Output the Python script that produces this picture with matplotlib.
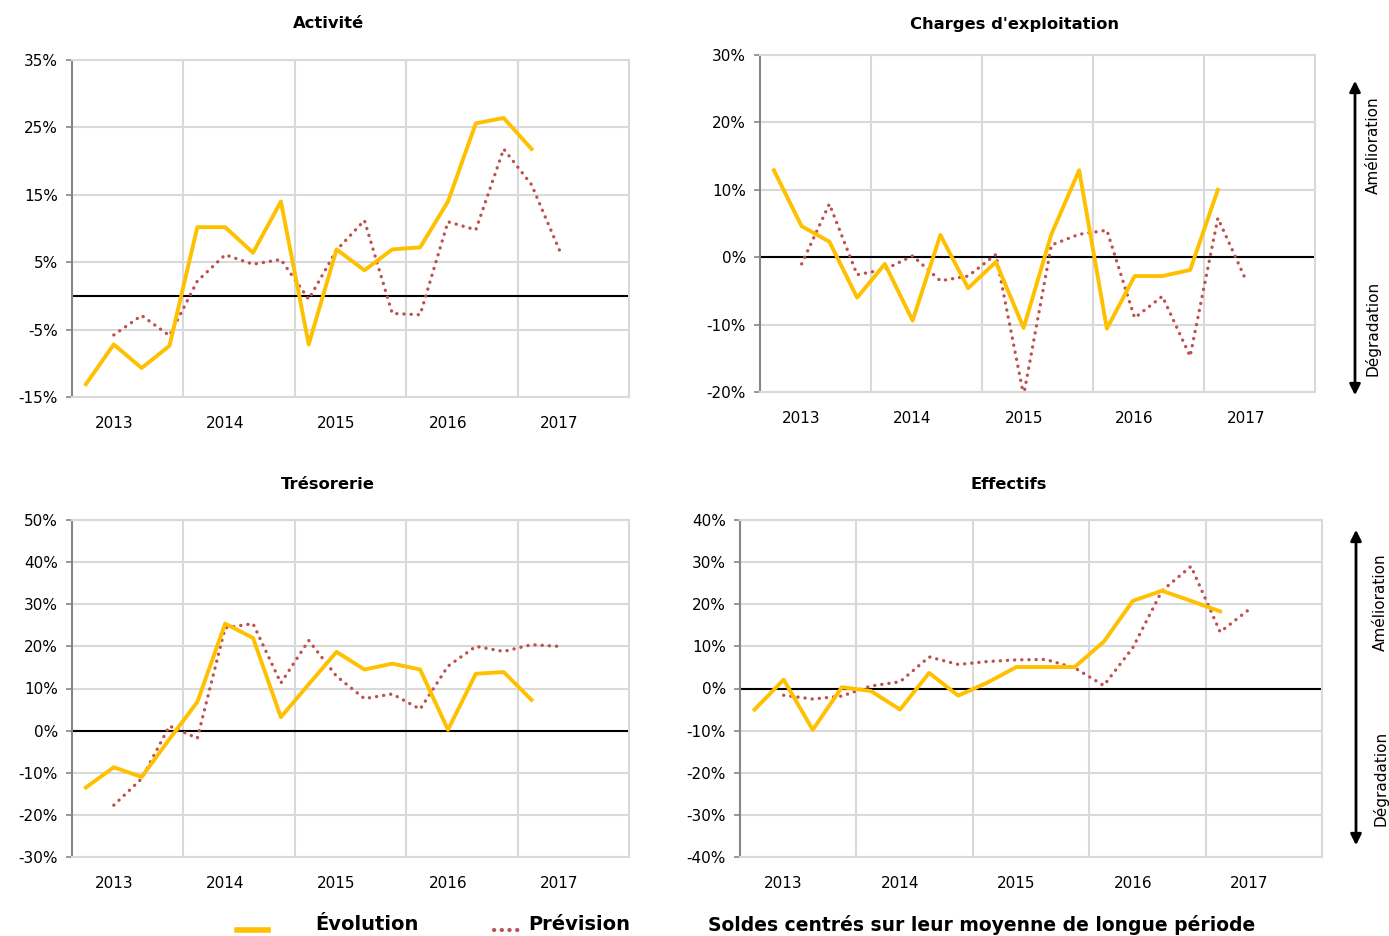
import numpy as np
import matplotlib.pyplot as plt

# quarterly points, 4 per year, 2013-2017
years = ["2013", "2014", "2015", "2016", "2017"]

activite_evol = [-13.1, -7.2, -10.7, -7.4, 10.2, 10.2, 6.4, 14.0, -7.2, 6.9, 3.8, 6.9, 7.2, 14.0, 25.6, 26.4, 21.8]
activite_prev = [-5.8, -2.9, -5.9, 2.2, 6.1, 4.7, 5.4, -0.5, 6.8, 11.2, -2.6, -2.8, 11.0, 9.8, 21.8, 16.5, 6.8]

charges_evol = [12.9, 4.6, 2.3, -6.0, -1.0, -9.4, 3.3, -4.6, -0.7, -10.5, 3.4, 12.9, -10.6, -2.8, -2.8, -1.9, 10.0]
charges_prev = [-1.0, 7.9, -2.6, -1.8, 0.2, -3.5, -2.8, 0.4, -20.5, 1.8, 3.4, 4.0, -9.0, -5.8, -14.7, 5.8, -3.3]

treso_evol = [-13.5, -8.7, -11.0, -2.0, 6.8, 25.4, 22.0, 3.2, 11.0, 18.7, 14.5, 15.9, 14.5, 0.2, 13.5, 13.9, 7.3]
treso_prev = [-17.7, -11.4, 1.1, -1.8, 24.4, 25.4, 11.3, 21.4, 12.9, 7.6, 8.7, 5.1, 15.3, 20.0, 18.8, 20.4, 20.0]

effectifs_evol = [-5.0, 2.1, -9.8, 0.3, -0.6, -5.0, 3.7, -1.7, 1.4, 5.1, 5.1, 5.1, 11.1, 20.8, 23.2, 20.8, 18.3]
effectifs_prev = [-1.6, -2.5, -1.8, 0.6, 1.6, 7.5, 5.7, 6.4, 6.8, 6.9, 4.9, 0.7, 9.7, 23.2, 29.0, 13.4, 18.8]

W, H = 1389, 936
fig = plt.figure(figsize=(W / 100, H / 100), dpi=100)

YELLOW = "#FFC000"
RED = "#C0504D"


def make_panel(box, title, title_xy, evol, prev, yticks):
    l, t, r, b = box
    ax = fig.add_axes([l / W, 1 - b / H, (r - l) / W, (b - t) / H])
    ax.set_axisbelow(True)
    x_e = np.arange(len(evol))
    x_p = np.arange(1, len(prev) + 1)
    ax.set_xlim(-0.5, 19.5)
    ax.set_ylim(yticks[0], yticks[-1])
    # grid
    for xv in [3.5, 7.5, 11.5, 15.5]:
        ax.axvline(xv, color="#d9d9d9", lw=1.5, zorder=0)
    ax.set_yticks(yticks)
    ax.set_yticklabels([f"{v:d}%" for v in yticks])
    ax.grid(axis="y", color="#d9d9d9", lw=1.5)
    ax.axhline(0, color="black", lw=1.5, zorder=1)
    ax.plot(x_p, prev, color=RED, lw=2.4, linestyle=(0, (0.05, 2.1)),
            dash_capstyle="round", zorder=2)
    ax.plot(x_e, evol, color=YELLOW, lw=2.8, zorder=3)
    ax.set_xticks([1, 5, 9, 13, 17])
    ax.set_xticklabels(years)
    ax.tick_params(axis="x", length=0, pad=14, labelsize=11)
    ax.tick_params(axis="y", length=4, width=1.2, color="#868686", pad=6, labelsize=11)
    for s in ["top", "right", "bottom"]:
        ax.spines[s].set_color("#d9d9d9")
        ax.spines[s].set_linewidth(1.5)
    ax.spines["left"].set_color("#868686")
    ax.spines["left"].set_linewidth(1.5)
    fig.text(title_xy[0] / W, 1 - title_xy[1] / H, title, fontsize=11.8,
             fontweight="bold", ha="center", va="center")
    return ax


make_panel((72, 60, 629, 397), "Activité", (328, 24), activite_evol, activite_prev,
           list(range(-15, 36, 10)))
make_panel((760, 55, 1315, 392), "Charges d'exploitation", (1014, 24), charges_evol,
           charges_prev, list(range(-20, 31, 10)))
make_panel((72, 520, 629, 857), "Trésorerie", (328, 484), treso_evol, treso_prev,
           list(range(-30, 51, 10)))
make_panel((740, 520, 1322, 857), "Effectifs", (1009, 484), effectifs_evol,
           effectifs_prev, list(range(-40, 41, 10)))

# arrows on the right
for y0, y1, xa, xt, ya, yd in [(78, 398, 1355, 1373, 145, 328),
                                (527, 848, 1356, 1380, 602, 778)]:
    fig.add_artist(plt.matplotlib.patches.FancyArrowPatch(
        (xa / W, 1 - y0 / H), (xa / W, 1 - y1 / H), transform=fig.transFigure,
        arrowstyle="<|-|>", mutation_scale=16, lw=2, color="black"))
    fig.text(xt / W, 1 - ya / H, "Amélioration", rotation=90, ha="center",
             va="center", fontsize=11)
    fig.text(xt / W, 1 - yd / H, "Dégradation", rotation=90, ha="center",
             va="center", fontsize=11)

# legend at the bottom
fig.add_artist(plt.Line2D([237 / W, 268 / W], [1 - 930 / H] * 2, color=YELLOW, lw=4,
                          transform=fig.transFigure))
fig.text(315 / W, 1 - 925 / H, "Évolution", fontsize=14, fontweight="bold", va="center")
fig.add_artist(plt.Line2D([494 / W, 519 / W], [1 - 930 / H] * 2, color=RED, lw=3,
                          linestyle=(0, (0.05, 1.8)), dash_capstyle="round",
                          transform=fig.transFigure))
fig.text(528 / W, 1 - 925 / H, "Prévision", fontsize=14, fontweight="bold", va="center")
fig.text(708 / W, 1 - 925 / H, "Soldes centrés sur leur moyenne de longue période",
         fontsize=13.5, fontweight="bold", va="center")

fig.savefig("out.png", dpi=100)
